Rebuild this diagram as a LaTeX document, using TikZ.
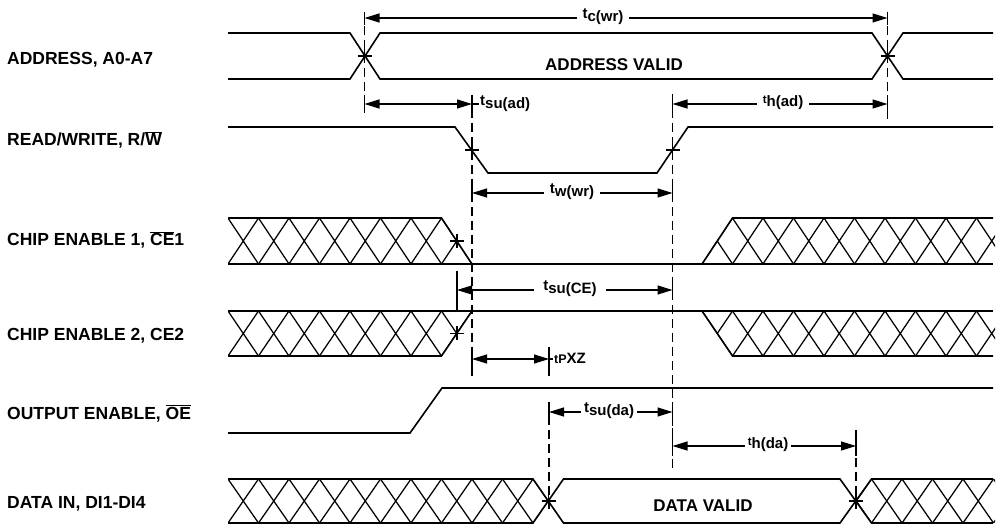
\documentclass[tikz,border=0pt]{standalone}
\usepackage{fontspec}
\setmainfont{Liberation Sans}
\usetikzlibrary{arrows.meta}

\newcommand\ovl[1]{$\overline{\mbox{#1}}$}
\newcommand\tlab[1]{t\raisebox{-0.35ex}{#1}}
\newcommand\tlabup[1]{\raisebox{0.45ex}{\fontsize{11.5}{12}\selectfont t}#1}

\begin{document}
\begin{tikzpicture}[x=1pt, y=-1pt,
  sig/.style={line width=1.6pt},
  hatch/.style={line width=1.25pt},
  guide/.style={line width=1.2pt, dash pattern=on 9pt off 5pt},
  tickln/.style={line width=1.2pt},
  dim/.style={line width=1.2pt, {Triangle[length=15pt,width=9pt]}-{Triangle[length=15pt,width=9pt]}},
  signame/.style={anchor=west, inner sep=0pt, font=\fontsize{17.5}{19}\selectfont\bfseries},
  tval/.style={inner sep=1pt, font=\fontsize{15}{17}\selectfont\bfseries},
  tgap/.style={tval, fill=white, inner xsep=6pt},
  valid/.style={inner sep=0pt, font=\fontsize{17}{19}\selectfont\bfseries}
]
\useasboundingbox (0,0) rectangle (997,526);

% signal names
\node[signame] (addr) at (7,60)    {ADDRESS, A0-A7};
\node[signame] (rw)   at (7,140)   {READ/WRITE, R/\ovl{W}};
\node[signame] (ce1)  at (7,240)   {CHIP ENABLE 1, \ovl{CE}1};
\node[signame] (ce2)  at (7,336)   {CHIP ENABLE 2, CE2};
\node[signame] (oe)   at (7,413.5) {OUTPUT ENABLE, \ovl{OE}};
\node[signame] (din)  at (7,503.5) {DATA IN, DI1-DI4};

% crossing points
\coordinate (a1) at (364.5,56);
\coordinate (a2) at (887.5,56);
\coordinate (r1) at (472,150);
\coordinate (r2) at (672.5,150);
\coordinate (c1) at (457,241);
\coordinate (c2) at (457,333.5);
\coordinate (d1) at (548.5,501);
\coordinate (d2) at (856,501);

% hatched (don't care) bands
\begin{scope}
  \clip (228,218) -- (441.5,218) -- (472,264) -- (228,264) -- cycle;
  \foreach \x in {228,258.5,...,472}
    \draw[hatch] (\x,218) -- ++(30.5,46) (\x,264) -- ++(30.5,-46);
\end{scope}
\begin{scope}
  \clip (702,264) -- (732.5,218) -- (995,218) -- (995,264) -- cycle;
  \foreach \x in {702,732.5,...,1000}
    \draw[hatch] (\x,218) -- ++(30.5,46) (\x,264) -- ++(30.5,-46);
\end{scope}
\begin{scope}
  \clip (228,311) -- (472,311) -- (441.5,356) -- (228,356) -- cycle;
  \foreach \x in {228,258.5,...,472}
    \draw[hatch] (\x,311) -- ++(30.5,45) (\x,356) -- ++(30.5,-45);
\end{scope}
\begin{scope}
  \clip (702,311) -- (995,311) -- (995,356) -- (732.5,356) -- cycle;
  \foreach \x in {702,732.5,...,1000}
    \draw[hatch] (\x,311) -- ++(30.5,45) (\x,356) -- ++(30.5,-45);
\end{scope}
\begin{scope}
  \clip (228,479) -- (533,479) -- (d1) -- (533,523) -- (228,523) -- cycle;
  \foreach \x in {228,258.5,...,540}
    \draw[hatch] (\x,479) -- ++(30.5,44) (\x,523) -- ++(30.5,-44);
\end{scope}
\begin{scope}
  \clip (d2) -- (871.5,479) -- (995,479) -- (995,523) -- (871.5,523) -- cycle;
  \foreach \x in {841,871.5,...,1000}
    \draw[hatch] (\x,479) -- ++(30.5,44) (\x,523) -- ++(30.5,-44);
\end{scope}

% waveforms
\draw[sig] (228,33) -- (350,33) -- (380,79) -- (872,79) -- (903,33) -- (993,33);
\draw[sig] (228,79) -- (350,79) -- (380,33) -- (872,33) -- (903,79) -- (993,79);
\draw[sig] (228,127) -- (455,127) -- (488,173) -- (657,173) -- (688,127) -- (993,127);
\draw[sig] (228,218) -- (441.5,218) -- (472,264);
\draw[sig] (228,264) -- (993,264);
\draw[sig] (702,264) -- (732.5,218) -- (993,218);
\draw[sig] (228,311) -- (993,311);
\draw[sig] (228,356) -- (441.5,356) -- (472,311);
\draw[sig] (702,311) -- (732.5,356) -- (993,356);
\draw[sig] (228,433) -- (410,433) -- (442,388) -- (993,388);
\draw[sig] (228,479) -- (533,479) -- (563.5,523) -- (840,523) -- (871.5,479) -- (993,479);
\draw[sig] (228,523) -- (533,523) -- (563.5,479) -- (840,479) -- (871.5,523) -- (993,523);

\node[valid] (addrvalid) at (614,65)  {ADDRESS VALID};
\node[valid] (datavalid) at (703,506) {DATA VALID};

% crossing marks
\foreach \p in {a1,a2,r1,r2,c1,c2,d1,d2}
  \draw[tickln] (\p) ++(-7,0) -- ++(14,0) (\p) ++(0,-7) -- ++(0,14);

% reference lines
\draw[guide] (364.5,12) -- (364.5,113);
\draw[guide] (887.5,12) -- (887.5,120);
\draw[guide] (472,95) -- (472,376);
\draw[guide] (672.5,95) -- (672.5,472);
\draw[guide] (549,402) -- (549,510);
\draw[guide] (856,430) -- (856,510);
\draw[tickln] (364.5,12) -- (364.5,25) (887.5,12) -- (887.5,25)
  (364.5,95) -- (364.5,113) (472,95) -- (472,113)
  (672.5,94) -- (672.5,113) (887.5,95) -- (887.5,113)
  (472,184) -- (472,202) (672.5,184) -- (672.5,202)
  (457,271) -- (457,310) (672.5,280) -- (672.5,300)
  (472,347) -- (472,376) (549,347) -- (549,376)
  (549,402) -- (549,422) (672.5,402) -- (672.5,422)
  (672.5,428) -- (672.5,456) (856,430) -- (856,456);

% timing dimensions
\draw[dim] (364.5,18) -- (887.5,18);
\node[tgap] (tcwr) at (603,17) {\tlab{c(wr)}};
\draw[dim] (364.5,104) -- (472,104);
\draw[tickln] (472,104) -- (479,104);
\node[tval, anchor=west] (tsuad) at (479,104) {\tlab{su(ad)}};
\draw[dim] (672.5,104) -- (887.5,104);
\node[tgap] (thad) at (783,103) {\tlabup{h(ad)}};
\draw[dim] (472,193) -- (672.5,193);
\node[tgap] (twwr) at (572,192) {\tlab{w(wr)}};
\draw[dim] (457,290) -- (672.5,290);
\node[tgap, inner xsep=9pt] (tsuce) at (570,289) {\tlab{su(CE)}};
\draw[dim] (472,359) -- (549,359);
\draw[tickln] (549,359) -- (553,359);
\node[tval, anchor=west] (tpxz) at (553,358) {{\fontsize{12.5}{13}\selectfont tP}XZ};
\draw[dim] (549,412) -- (672.5,412);
\node[tgap, inner xsep=3pt] (tsuda) at (609,411) {\tlab{su(da)}};
\draw[dim] (672.5,446) -- (856,446);
\node[tgap, inner xsep=3pt] (thda) at (768,445) {\tlabup{h(da)}};
\end{tikzpicture}
\end{document}
